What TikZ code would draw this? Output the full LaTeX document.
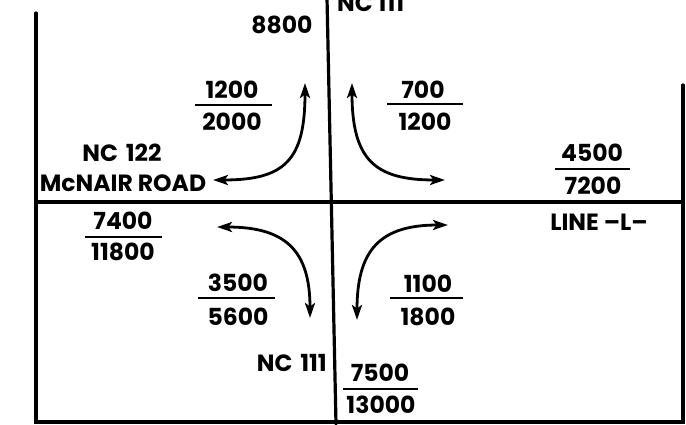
\documentclass[tikz,border=0pt]{standalone}
\usepackage{fontspec}
\setmainfont{Poppins}
\usetikzlibrary{arrows.meta}
\tikzset{
  lbl/.style={inner sep=0pt, font=\fontsize{23.5}{26}\selectfont\bfseries},
  road/.style={line width=3.2pt, line cap=round},
  bar/.style={line width=2.3pt},
  turn/.style={line width=2.8pt, {Stealth[length=15pt,width=10pt,inset=3.5pt]}-{Stealth[length=15pt,width=10pt,inset=3.5pt]}}
}
\begin{document}
\begin{tikzpicture}[x=1pt,y=-1pt]
\useasboundingbox (0,0) rectangle (686,424);
% frame and roads
\draw[road] (36,13) -- (36,422) -- (683,422) -- (683,85);
\draw[road] (36,202) -- (683,202);
\draw[road] (327,-2) -- (336,424);
% top cropped label
\begin{scope}
\clip (330,0) rectangle (450,30);
\node[lbl, anchor=base west] (nctop) at (337,11) {NC 111};
\end{scope}
% labels
\node[lbl] (v8800) at (282,24.5) {8800};
\node[lbl] (a1) at (232,90) {1200};
\node[lbl] (b1) at (232,122) {2000};
\draw[bar] (195,105) -- (272,105);
\node[lbl] (a2) at (423,90) {700};
\node[lbl] (b2) at (425,122) {1200};
\draw[bar] (387,104) -- (463,104);
\node[lbl] (nc122) at (122,153) {NC\,\,122};
\node[lbl] (mcn) at (123,183) {McNAIR ROAD};
\node[lbl] (a3) at (592,153) {4500};
\node[lbl] (b3) at (593,186) {7200};
\draw[bar] (555,169) -- (630,169);
\node[lbl] (a4) at (123,221) {7400};
\node[lbl] (b4) at (123,252) {11800};
\draw[bar] (85,237) -- (162,237);
\node[lbl] (linel) at (599,222) {LINE –L–};
\node[lbl] (a5) at (238,283) {3500};
\node[lbl] (b5) at (238,317) {5600};
\draw[bar] (198,298) -- (275,298);
\node[lbl] (a6) at (428,284) {1100};
\node[lbl] (b6) at (428,317) {1800};
\draw[bar] (390,298) -- (463,298);
\node[lbl, anchor=east] (nc111) at (327,363) {NC\,\,111};
\node[lbl] (a7) at (380,373) {7500};
\node[lbl] (b7) at (381,405) {13000};
\draw[bar] (343,389) -- (418,389);
% turning movement arrows
\coordinate (tl1) at (213,180); \coordinate (tl2) at (305,83);
\coordinate (tr1) at (445,180); \coordinate (tr2) at (352,83);
\coordinate (bl1) at (217,227); \coordinate (bl2) at (310,318);
\coordinate (br1) at (448,225); \coordinate (br2) at (357,320);
\draw[turn] (tl1) .. controls (285,180) and (305,160) .. (tl2);
\draw[turn] (tr1) .. controls (375,180) and (352,160) .. (tr2);
\draw[turn] (bl1) .. controls (285,227) and (310,250) .. (bl2);
\draw[turn] (br1) .. controls (380,225) and (357,250) .. (br2);
\end{tikzpicture}
\end{document}
